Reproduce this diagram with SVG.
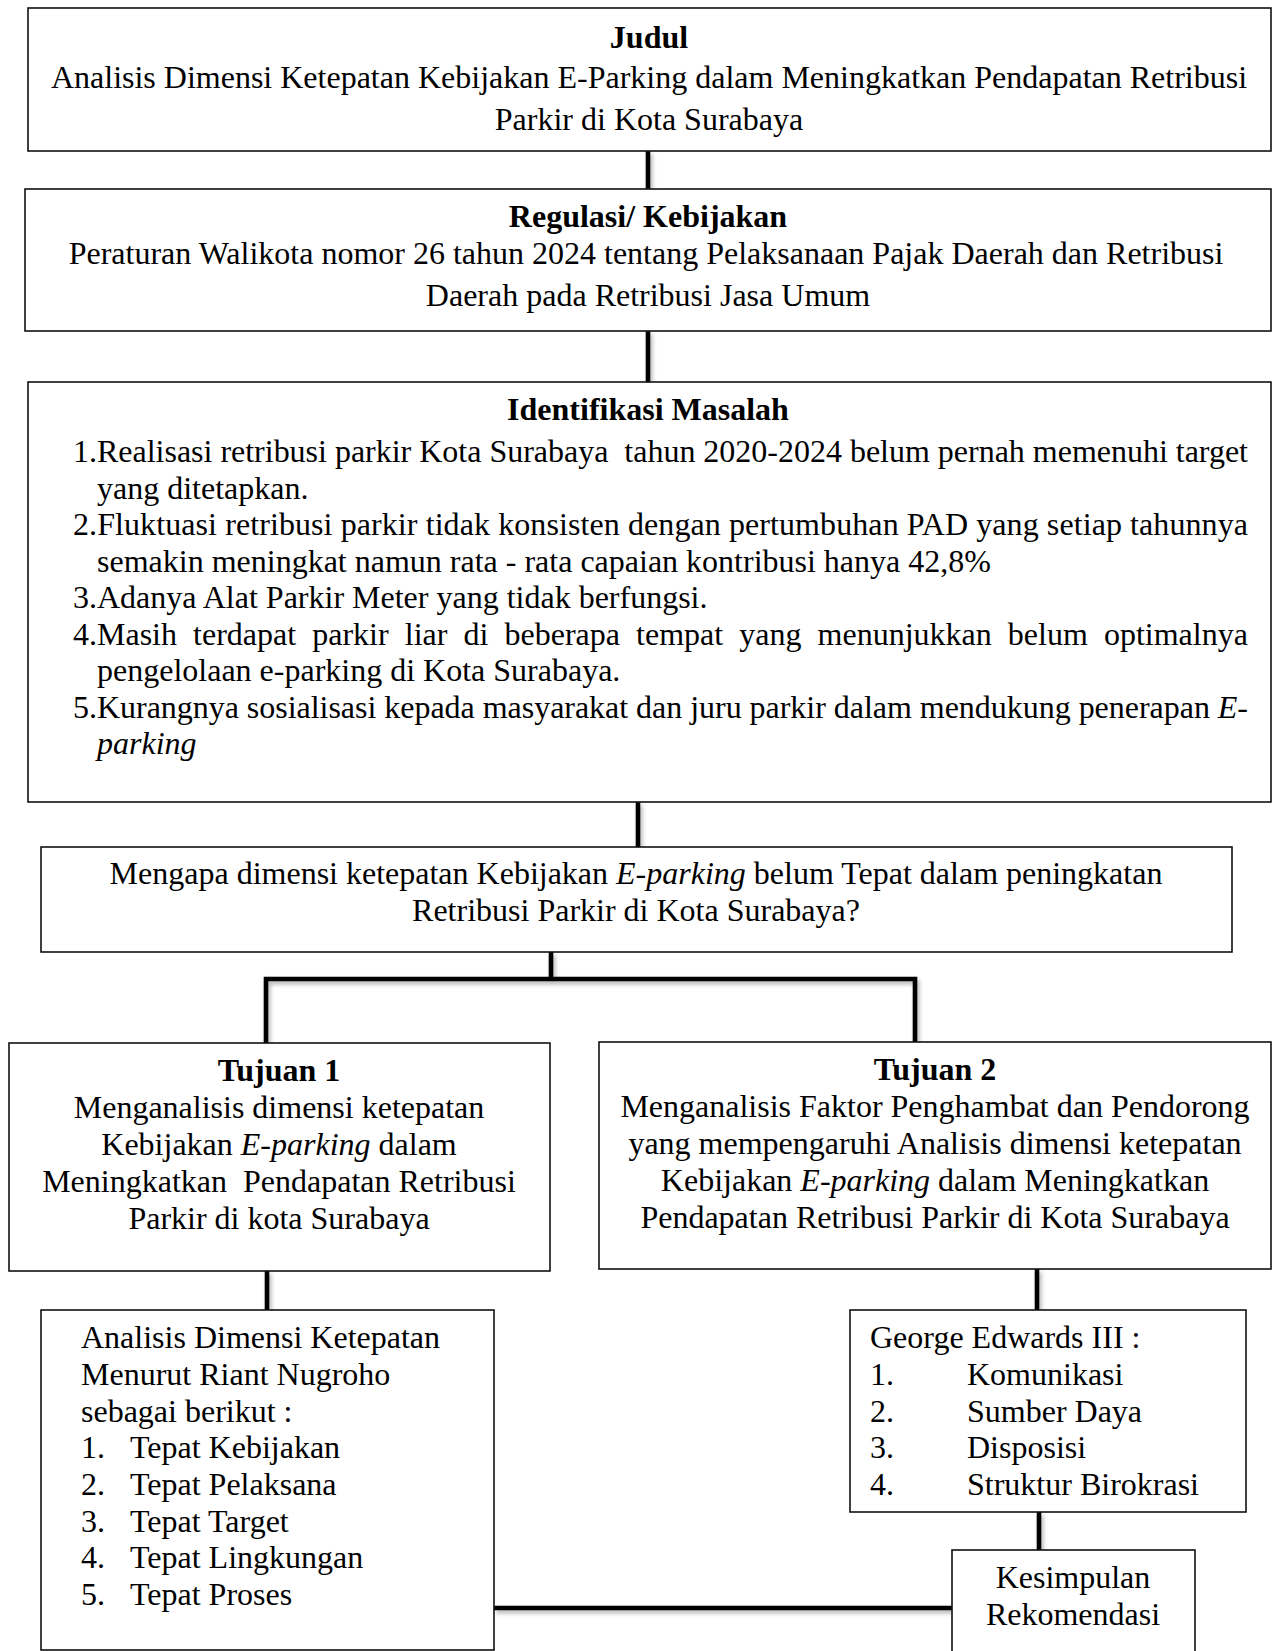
<svg xmlns="http://www.w3.org/2000/svg" width="1275" height="1651" viewBox="0 0 1275 1651">
<style>
text{font-family:"Liberation Serif","Times New Roman",serif;font-size:32px;fill:#000;white-space:pre}
.c{text-anchor:middle}
.b{font-weight:bold}
.i{font-style:italic}
.box{fill:#fff;stroke:#111;stroke-width:1.6}
.con{stroke:#000;stroke-width:4.6;fill:none;stroke-linecap:butt}
</style>
<defs>
<filter id="sh" filterUnits="userSpaceOnUse" x="0" y="0" width="1275" height="1651">
<feDropShadow dx="2" dy="3" stdDeviation="2" flood-color="#000" flood-opacity="0.3"/>
</filter>
</defs>
<rect width="1275" height="1651" fill="#fff"/>
<g id="connectors" filter="url(#sh)">
<line class="con" x1="648" y1="151" x2="648" y2="189"/>
<line class="con" x1="648" y1="331" x2="648" y2="382"/>
<line class="con" x1="638" y1="802" x2="638" y2="847"/>
<line class="con" x1="551" y1="952" x2="551" y2="979"/>
<polyline class="con" points="266,1043 266,979 915,979 915,1042"/>
<line class="con" x1="267" y1="1271" x2="267" y2="1310"/>
<line class="con" x1="1037" y1="1269" x2="1037" y2="1310"/>
<line class="con" x1="1039" y1="1512" x2="1039" y2="1550"/>
<line class="con" x1="494" y1="1608" x2="952" y2="1608"/>
</g>
<g id="judul">
<rect class="box" x="28" y="8" width="1243" height="143"/>
<text class="c b" x="649" y="48">Judul</text>
<text class="c" x="649" y="88">Analisis Dimensi Ketepatan Kebijakan E-Parking dalam Meningkatkan Pendapatan Retribusi</text>
<text class="c" x="649" y="130">Parkir di Kota Surabaya</text>
</g>
<g id="regulasi">
<rect class="box" x="25" y="189" width="1246" height="142"/>
<text class="c b" x="648" y="227">Regulasi/ Kebijakan</text>
<text class="c" x="646" y="264">Peraturan Walikota nomor 26 tahun 2024 tentang Pelaksanaan Pajak Daerah dan Retribusi</text>
<text class="c" x="648" y="306">Daerah pada Retribusi Jasa Umum</text>
</g>
<g id="identifikasi">
<rect class="box" x="28" y="382" width="1243" height="420"/>
<text class="c b" x="648" y="420">Identifikasi Masalah</text>
<text x="73" y="462" textLength="1175" lengthAdjust="spacing">1.Realisasi retribusi parkir Kota Surabaya  tahun 2020-2024 belum pernah memenuhi target</text>
<text x="97" y="498.5">yang ditetapkan.</text>
<text x="73" y="535" textLength="1175" lengthAdjust="spacing">2.Fluktuasi retribusi parkir tidak konsisten dengan pertumbuhan PAD yang setiap tahunnya</text>
<text x="97" y="571.5">semakin meningkat namun rata - rata capaian kontribusi hanya 42,8%</text>
<text x="73" y="608">3.Adanya Alat Parkir Meter yang tidak berfungsi.</text>
<text x="73" y="644.5" word-spacing="8.1">4.Masih terdapat parkir liar di beberapa tempat yang menunjukkan belum optimalnya</text>
<text x="97" y="681">pengelolaan e-parking di Kota Surabaya.</text>
<text x="73" y="717.5" textLength="1175" lengthAdjust="spacing">5.Kurangnya sosialisasi kepada masyarakat dan juru parkir dalam mendukung penerapan <tspan class="i">E-</tspan></text>
<text class="i" x="97" y="754">parking</text>
</g>
<g id="pertanyaan">
<rect class="box" x="41" y="847" width="1191" height="105"/>
<text class="c" x="636" y="884">Mengapa dimensi ketepatan Kebijakan <tspan class="i">E-parking</tspan> belum Tepat dalam peningkatan</text>
<text class="c" x="636" y="921">Retribusi Parkir di Kota Surabaya?</text>
</g>
<g id="tujuan1">
<rect class="box" x="9" y="1043" width="541" height="228"/>
<text class="c b" x="279" y="1081">Tujuan 1</text>
<text class="c" x="279" y="1118">Menganalisis dimensi ketepatan</text>
<text class="c" x="279" y="1155">Kebijakan <tspan class="i">E-parking</tspan> dalam</text>
<text class="c" x="279" y="1192">Meningkatkan  Pendapatan Retribusi</text>
<text class="c" x="279" y="1229">Parkir di kota Surabaya</text>
</g>
<g id="tujuan2">
<rect class="box" x="599" y="1042" width="672" height="227"/>
<text class="c b" x="935" y="1080">Tujuan 2</text>
<text class="c" x="935" y="1117">Menganalisis Faktor Penghambat dan Pendorong</text>
<text class="c" x="935" y="1154">yang mempengaruhi Analisis dimensi ketepatan</text>
<text class="c" x="935" y="1191">Kebijakan <tspan class="i">E-parking</tspan> dalam Meningkatkan</text>
<text class="c" x="935" y="1228">Pendapatan Retribusi Parkir di Kota Surabaya</text>
</g>
<g id="analisis">
<rect class="box" x="41" y="1310" width="453" height="340"/>
<text x="81" y="1348">Analisis Dimensi Ketepatan</text>
<text x="81" y="1385">Menurut Riant Nugroho</text>
<text x="81" y="1422">sebagai berikut :</text>
<text x="81" y="1458">1.</text><text x="130" y="1458">Tepat Kebijakan</text>
<text x="81" y="1495">2.</text><text x="130" y="1495">Tepat Pelaksana</text>
<text x="81" y="1532">3.</text><text x="130" y="1532">Tepat Target</text>
<text x="81" y="1568">4.</text><text x="130" y="1568">Tepat Lingkungan</text>
<text x="81" y="1605">5.</text><text x="130" y="1605">Tepat Proses</text>
</g>
<g id="george">
<rect class="box" x="850" y="1310" width="396" height="202"/>
<text x="870" y="1348">George Edwards III :</text>
<text x="870" y="1385">1.</text><text x="967" y="1385">Komunikasi</text>
<text x="870" y="1422">2.</text><text x="967" y="1422">Sumber Daya</text>
<text x="870" y="1458">3.</text><text x="967" y="1458">Disposisi</text>
<text x="870" y="1495">4.</text><text x="967" y="1495">Struktur Birokrasi</text>
</g>
<g id="kesimpulan">
<rect class="box" x="952" y="1550" width="243" height="115"/>
<text class="c" x="1073" y="1588">Kesimpulan</text>
<text class="c" x="1073" y="1625">Rekomendasi</text>
</g>
</svg>
